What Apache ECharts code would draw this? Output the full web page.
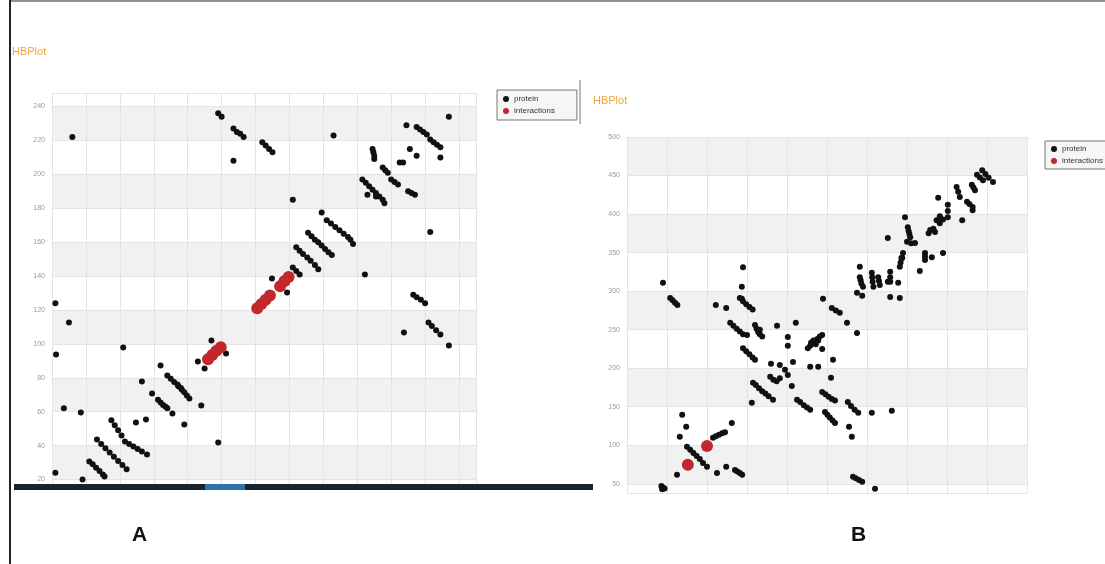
<!DOCTYPE html>
<html>
<head>
<meta charset="utf-8">
<script src="https://cdn.jsdelivr.net/npm/echarts@6.0.0/dist/echarts.min.js"></script>
<style>
  html, body { margin: 0; padding: 0; background: #fff; }
  #main { width: 1105px; height: 564px; }
</style>
</head>
<body>
<div id="main"></div>
<script>
// panel A: residue pairs
const proteinA = [
  [12, 222], [98, 236], [100, 234], [107, 227], [109, 225], [111, 224], [113, 222],
  [107, 208], [124, 219], [126, 217], [128, 215], [130, 213], [166, 223], [142, 185],
  [234, 234], [209, 229], [215, 228], [217, 226.5], [219, 225], [221, 223.5],
  [223, 220.5], [225, 219], [227, 217.5], [229, 216], [229, 210], [211, 215], [215, 211],
  [205, 207], [207, 207], [189, 215], [189.5, 213], [190, 211], [190, 209],
  [195, 204], [196.5, 202.5], [198, 201], [200, 197], [202, 195.5], [204, 194],
  [183, 197], [185, 195], [187, 193], [189, 191], [191, 189], [193, 187], [195, 185], [196, 183],
  [186, 188], [191, 187], [210, 190], [212, 189], [214, 188], [223, 166],
  [159, 177.5], [162, 173], [164.5, 171], [167, 169], [169.5, 167], [172, 165], [174.5, 163], [176, 161.5],
  [177.5, 159], [151, 165.5], [153, 163.5], [155, 161.5], [157, 160], [159, 158], [161, 156], [163, 154], [165, 152.5],
  [144, 157], [146, 155], [148, 153], [150.5, 151], [152.5, 149], [155, 146.5], [157, 144],
  [142, 145], [144, 143], [146, 141], [184.5, 141], [129.7, 138.6], [138.6, 130.3],
  [213, 129], [215, 127.5], [217.5, 126], [220, 124], [207.5, 106.7],
  [222, 112.6], [224, 110.5], [226.5, 108], [229, 105.5], [234, 99],
  [2, 124], [10, 112.6], [2.4, 93.7], [42, 97.9], [64, 87.3], [53, 77.8], [59, 70.7],
  [68, 81.4], [70, 79.5], [72, 77.5], [74.5, 75], [76.6, 73],
  [74, 76], [76, 74], [78, 71.5], [79.5, 69.5], [81, 67.8],
  [62.5, 67], [64, 65.5], [65.5, 64], [67, 63], [68, 62],
  [71, 59], [78, 52.4], [88, 63.7], [86, 89.6], [90, 85.5], [98, 41.8],
  [94, 102], [102.6, 94.3], [7, 62], [17, 59.5],
  [35, 55], [37, 52], [39, 49], [41, 46], [43, 42.5], [45.5, 41], [48, 39.5], [50.5, 38], [53, 36.5], [56, 34.7],
  [26.5, 43.6], [29, 41], [31.5, 38.5], [34, 36], [36.5, 33.5], [39, 31], [41.5, 28.5], [44, 26],
  [22, 30.6], [24, 29], [26, 27], [28, 25], [30, 23], [31, 21.8],
  [49.5, 53.6], [55.4, 55.4], [18, 20], [2, 24]
];
const interactionsA = [
  [121, 121], [123.5, 123.5], [126, 126], [128.5, 128.5],
  [134.5, 134], [137, 137], [139.5, 139.5],
  [92, 91], [94.5, 93.5], [97, 96], [99.5, 98]
];

// panel B
const proteinB = [
  [45, 310.7], [145, 331], [143.5, 305.5], [143.5, 290], [245, 290],
  [54, 291], [57, 288], [60, 285], [63, 282],
  [141, 291], [145, 287], [149, 283], [153, 279.5], [157, 276],
  [111, 282], [124, 278],
  [129, 259], [133, 255], [137, 251], [141, 247.5], [145, 244], [150, 243],
  [160, 256], [162, 251], [164, 247], [166, 244], [169, 241], [166, 250],
  [187.5, 255], [211, 259], [256, 278], [261, 275], [266, 272],
  [201, 240.6], [201, 229],
  [226, 226], [229, 229], [232, 232], [235, 235], [238, 238], [241, 241], [244, 243],
  [230, 233], [236, 231], [233, 236], [239, 236],
  [244, 225], [257.5, 211],
  [145, 226], [149, 222], [153, 218], [157, 214], [160, 211],
  [180, 205.6], [191, 204], [207.5, 208], [197.5, 198], [201, 191],
  [229, 201.7], [239, 201.7], [255, 187.5],
  [179, 189], [183, 185], [187, 183], [191, 187],
  [157.5, 181], [161, 178], [165, 174], [169, 170], [173, 167], [177, 163.5], [182.5, 159],
  [156, 155], [206, 177],
  [212.5, 159], [216.5, 156], [221, 152], [225, 149], [229, 146],
  [244, 169], [248, 166], [252, 163], [256, 160], [260, 158],
  [247.5, 143], [250.5, 139.5], [253.5, 136], [257, 132], [260, 129],
  [276, 156], [280, 151], [284.5, 146], [289, 142],
  [306, 142], [331, 144.7], [277.5, 124], [281, 111],
  [282.5, 59], [286, 57], [290, 55], [294, 52.6], [310, 43.5],
  [275, 258.8], [287.5, 245.8],
  [43, 47], [45, 45], [47, 44], [44, 43], [62.5, 61.7],
  [66, 111], [74, 124], [69, 139.5],
  [75, 98], [79, 94], [83, 90], [87, 86], [91, 82], [95, 77], [100, 72],
  [107.5, 109.7], [111, 111.5], [115, 113.5], [119, 115.5], [122.5, 117],
  [131, 129], [112.5, 64], [124, 72],
  [135, 68], [138, 66], [141, 64], [144, 61.7],
  [291, 331.5], [291, 318], [292, 314], [293, 310], [295, 305.5],
  [294, 294], [287.5, 298],
  [306, 323.7], [306.5, 318], [307, 312], [308, 305.5],
  [314, 318], [315, 313], [316, 308],
  [329, 325], [329, 318], [329, 312],
  [329, 292.5], [339, 310.7], [344, 343], [326, 369], [326, 312], [341, 291],
  [341, 331.5], [342, 337], [343, 343], [345, 349.6],
  [347.5, 396], [351, 383], [352, 378], [353, 374], [354, 370],
  [350, 364], [355, 362], [360, 362.6], [366, 326], [381, 344],
  [372.5, 349.6], [372.5, 345], [372.5, 340.5],
  [379, 379.4], [385, 376.8], [377, 375], [383, 381],
  [391, 392.4], [387, 392], [395, 393], [391, 388], [391, 397],
  [395, 349.6], [389, 421], [401, 412], [401, 404], [401, 396],
  [412, 435], [414, 429], [416, 422], [419, 392],
  [425, 416], [428, 413], [432, 409],
  [431, 438], [433, 434.5], [435, 431],
  [437.5, 451], [441, 447.5], [445, 444],
  [444, 457], [448, 452], [452, 447], [457.5, 441.7], [432, 405]
];
const interactionsB = [[76, 74.6], [100, 99]];

const legendNames = ["protein", "interactions"];

let chart = echarts.init(document.getElementById("main"));

const yAxisBase = {
  type: "value",
  axisLine: { show: false },
  axisTick: { show: false },
  axisLabel: { color: "#9a9a9a", fontSize: 7, margin: 7, showMinLabel: false },
  splitLine: { lineStyle: { color: "#e4e4e4" } },
  splitArea: { show: true, areaStyle: { color: ["rgba(255,255,255,0)", "#f1f1f1"] } }
};
const xAxisBase = {
  type: "value",
  axisLine: { show: false },
  axisTick: { show: false },
  axisLabel: { show: false },
  splitLine: { lineStyle: { color: "#e4e4e4" } }
};

const legendBase = {
  data: legendNames, orient: "vertical",
  itemWidth: 6, itemHeight: 6, itemGap: 4,
  borderColor: "#777", borderWidth: 1, backgroundColor: "#f6f6f6",
  textStyle: { fontSize: 8, color: "#333" }
};

chart.setOption({
  animation: false,
  title: [
    { text: "HBPlot", left: 12, top: 46, padding: 0, textStyle: { color: "#f0a43c", fontSize: 11, fontWeight: "normal" } },
    { text: "HBPlot", left: 593, top: 95, padding: 0, textStyle: { color: "#f0a43c", fontSize: 11, fontWeight: "normal" } }
  ],
  legend: [
    Object.assign({}, legendBase, { left: 497, top: 90, padding: [5, 22, 5, 6] }),
    Object.assign({}, legendBase, { left: 1045, top: 141, padding: [4, 14, 4, 6] })
  ],
  grid: [
    { left: 52, top: 93, width: 424, height: 395 },
    { left: 627, top: 137, width: 400, height: 356 }
  ],
  xAxis: [
    Object.assign({}, xAxisBase, { gridIndex: 0, min: 0, max: 250, interval: 20 }),
    Object.assign({}, xAxisBase, { gridIndex: 1, min: 0, max: 500, interval: 50 })
  ],
  yAxis: [
    Object.assign({}, yAxisBase, { gridIndex: 0, min: 15, max: 248, splitNumber: 11,
      axisLabel: Object.assign({}, yAxisBase.axisLabel, { showMaxLabel: false }) }),
    Object.assign({}, yAxisBase, { gridIndex: 1, min: 38, max: 500, splitNumber: 9 })
  ],
  series: [
    { name: "protein", type: "scatter", xAxisIndex: 0, yAxisIndex: 0, data: proteinA,
      symbolSize: 6, itemStyle: { color: "#111", opacity: 1 } },
    { name: "interactions", type: "scatter", xAxisIndex: 0, yAxisIndex: 0, data: interactionsA,
      symbolSize: 12, itemStyle: { color: "#c1272d", opacity: 1 } },
    { name: "protein", type: "scatter", xAxisIndex: 1, yAxisIndex: 1, data: proteinB,
      symbolSize: 6, itemStyle: { color: "#111", opacity: 1 } },
    { name: "interactions", type: "scatter", xAxisIndex: 1, yAxisIndex: 1, data: interactionsB,
      symbolSize: 12, itemStyle: { color: "#c1272d", opacity: 1 } }
  ],
  color: ["#111", "#c1272d"],
  graphic: [
    // figure frame
    { type: "line", shape: { x1: 10, y1: 0, x2: 10, y2: 564 }, style: { stroke: "#222", lineWidth: 2 } },
    { type: "line", shape: { x1: 10, y1: 1, x2: 1105, y2: 1 }, style: { stroke: "#222", lineWidth: 1 } },
    { type: "line", shape: { x1: 580, y1: 80, x2: 580, y2: 124 }, style: { stroke: "#777", lineWidth: 1 } },
    // slider bar under panel A
    { type: "rect", z: 100, shape: { x: 14, y: 484, width: 579, height: 6 }, style: { fill: "#18242e" } },
    { type: "rect", z: 101, shape: { x: 205, y: 484, width: 40, height: 6 }, style: { fill: "#2c73ae" } },
    { type: "text", left: 132, top: 525, style: { text: "A", fontSize: 21, fontWeight: "bold", fill: "#111", fontFamily: "Liberation Sans" } },
    { type: "text", left: 851, top: 525, style: { text: "B", fontSize: 21, fontWeight: "bold", fill: "#111", fontFamily: "Liberation Sans" } }
  ]
});
</script>
</body>
</html>
